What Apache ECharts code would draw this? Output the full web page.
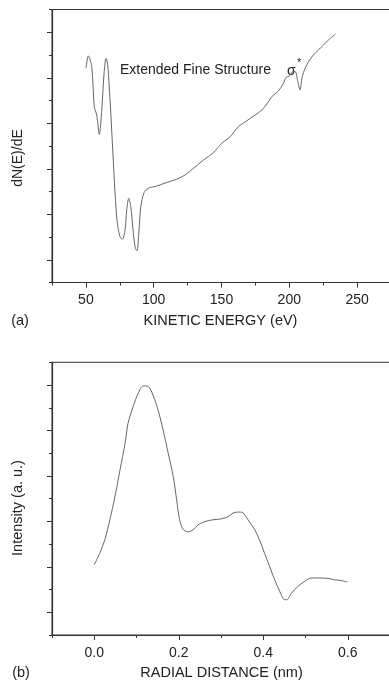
<!DOCTYPE html>
<html>
<head>
<meta charset="utf-8">
<script src="https://cdn.jsdelivr.net/npm/echarts@6/dist/echarts.min.js"></script>
<style>
html,body{margin:0;padding:0;background:#fff;overflow:hidden;width:389px;height:682px;}
#chart{width:400px;height:682px;}
</style>
</head>
<body>
<div id="chart"></div>
<script>
// Panel (a): kinetic energy (eV) vs dN(E)/dE (arbitrary units)
var energy = [50.1,51.8,54.3,56.2,58.0,59.9,61.7,63.4,64.9,66.1,67.8,69.8,71.5,73.2,75.2,76.9,78.9,80.1,81.6,83.1,85.0,86.5,87.7,89.0,90.5,92.9,96.1,102.3,109.7,117.0,123.2,129.3,136.7,144.0,150.2,156.4,162.5,168.7,174.8,179.8,184.6,187.1,192.0,195.7,197.7,200.1,202.6,204.3,206.3,208.0,209.5,211.7,214.2,217.8,221.5,225.2,228.9,233.9];
var dNdE   = [9.42,9.96,9.49,7.73,7.36,6.51,7.58,9.20,9.85,9.56,8.02,5.82,3.92,2.60,2.01,1.90,2.31,3.19,3.70,3.33,2.16,1.50,1.40,2.16,3.33,3.95,4.14,4.24,4.40,4.54,4.73,5.02,5.38,5.71,6.12,6.41,6.85,7.11,7.36,7.58,7.95,8.17,8.42,8.76,9.02,9.08,9.27,9.27,8.83,8.46,9.05,9.42,9.71,10.00,10.22,10.44,10.66,10.91];
var energyMajorTicks = [50,100,150,200,250];
var dNdEMajorTicks = [1,3,5,7,9,11];

// Panel (b): radial distance (nm) vs intensity (a. u.)
var radial = [0.000,0.013,0.025,0.037,0.049,0.061,0.073,0.080,0.092,0.104,0.116,0.128,0.139,0.151,0.163,0.175,0.187,0.195,0.202,0.210,0.222,0.234,0.246,0.262,0.281,0.301,0.317,0.328,0.340,0.351,0.364,0.380,0.391,0.403,0.415,0.427,0.439,0.448,0.456,0.466,0.482,0.498,0.514,0.533,0.553,0.569,0.584,0.599];
var intensity = [3.09,3.60,4.19,5.07,6.09,7.27,8.44,9.32,10.05,10.64,10.96,10.93,10.56,9.90,9.02,8.00,6.97,5.95,5.07,4.66,4.54,4.63,4.85,4.99,5.07,5.11,5.21,5.36,5.41,5.39,5.07,4.63,4.19,3.60,3.02,2.43,1.92,1.58,1.55,1.82,2.14,2.36,2.51,2.51,2.49,2.43,2.40,2.33];
var radialMajorTicks = [0,0.2,0.4,0.6];
var intensityMajorTicks = [1,3,5,7,9,11];

function zip(a,b){var r=[];for(var i=0;i<a.length;i++)r.push([a[i],b[i]]);return r;}

var FONT = '"Liberation Sans", Arial, sans-serif';
var TXT = '#222';
var AX = '#333';
var LINE = '#666';

function xMinor(gi, min, max, interval, fmt){
  return {gridIndex:gi,type:'value',min:min,max:max,interval:interval,position:'bottom',
    axisLine:{show:true,onZero:false,lineStyle:{color:AX,width:1.2}},
    axisTick:{show:true,length:3,lineStyle:{color:AX}},
    splitLine:{show:false},
    axisLabel:{show:true,margin:11,color:TXT,fontSize:14,fontFamily:FONT,formatter:fmt}};
}
function xMajor(gi, min, max, ticks){
  return {gridIndex:gi,type:'value',min:min,max:max,position:'bottom',
    axisLine:{show:false,onZero:false},
    axisTick:{show:true,length:5,customValues:ticks,lineStyle:{color:AX}},
    splitLine:{show:false},axisLabel:{show:false}};
}
function yMinor(gi){
  return {gridIndex:gi,type:'value',min:0,max:12,interval:1,position:'left',
    axisLine:{show:true,onZero:false,lineStyle:{color:AX,width:1.2}},
    axisTick:{show:true,length:3,lineStyle:{color:AX}},
    splitLine:{show:false},axisLabel:{show:false}};
}
function yMajor(gi, ticks){
  return {gridIndex:gi,type:'value',min:0,max:12,position:'left',
    axisLine:{show:false,onZero:false},
    axisTick:{show:true,length:5,customValues:ticks,lineStyle:{color:AX}},
    splitLine:{show:false},axisLabel:{show:false}};
}

var chart = echarts.init(document.getElementById('chart'), null, {renderer:'canvas'});
chart.setOption({
  backgroundColor:'#fff',
  animation:false,
  grid:[
    {left:52,top:9.5,width:339,height:273,show:true,borderColor:AX,borderWidth:1,containLabel:false},
    {left:52,top:362.3,width:338,height:272.7,show:true,borderColor:AX,borderWidth:1,containLabel:false}
  ],
  xAxis:[
    xMinor(0,25,275,25,function(v){return (v%50===0 && v<=250)? String(v):'';}),
    xMajor(0,25,275,energyMajorTicks),
    xMinor(1,-0.1,0.7,0.1,function(v){var k=Math.round(v*10);return (k>=0 && k<=6 && k%2===0)? v.toFixed(1):'';}),
    xMajor(1,-0.1,0.7,radialMajorTicks)
  ],
  yAxis:[
    yMinor(0), yMajor(0,dNdEMajorTicks),
    yMinor(1), yMajor(1,intensityMajorTicks)
  ],
  series:[
    {type:'line',xAxisIndex:0,yAxisIndex:0,data:zip(energy,dNdE),showSymbol:false,smooth:0.3,
      lineStyle:{color:LINE,width:1}},
    {type:'line',xAxisIndex:2,yAxisIndex:2,data:zip(radial,intensity),showSymbol:false,smooth:0.3,
      lineStyle:{color:LINE,width:1}}
  ],
  graphic:[
    {type:'text',left:120,top:63,style:{text:'Extended Fine Structure',fill:TXT,font:'14px '+FONT}},
    {type:'text',x:287,y:64,style:{text:'σ',fill:TXT,font:'14px '+FONT}},
    {type:'text',x:297,y:57,style:{text:'*',fill:TXT,font:'11px '+FONT}},
    {type:'text',x:18,y:158,rotation:Math.PI/2,style:{text:'dN(E)/dE',fill:TXT,font:'14px '+FONT,align:'center',verticalAlign:'middle'}},
    {type:'text',x:18,y:508,rotation:Math.PI/2,style:{text:'Intensity (a. u.)',fill:TXT,font:'14.5px '+FONT,align:'center',verticalAlign:'middle'}},
    {type:'text',x:220.5,y:321,style:{text:'KINETIC ENERGY (eV)',fill:TXT,font:'14.5px '+FONT,align:'center',verticalAlign:'middle'}},
    {type:'text',x:221.5,y:673,style:{text:'RADIAL DISTANCE (nm)',fill:TXT,font:'14.5px '+FONT,align:'center',verticalAlign:'middle'}},
    {type:'text',x:20,y:321,style:{text:'(a)',fill:TXT,font:'14.5px '+FONT,align:'center',verticalAlign:'middle'}},
    {type:'text',x:21,y:673,style:{text:'(b)',fill:TXT,font:'14.5px '+FONT,align:'center',verticalAlign:'middle'}}
  ]
});
</script>
</body>
</html>
